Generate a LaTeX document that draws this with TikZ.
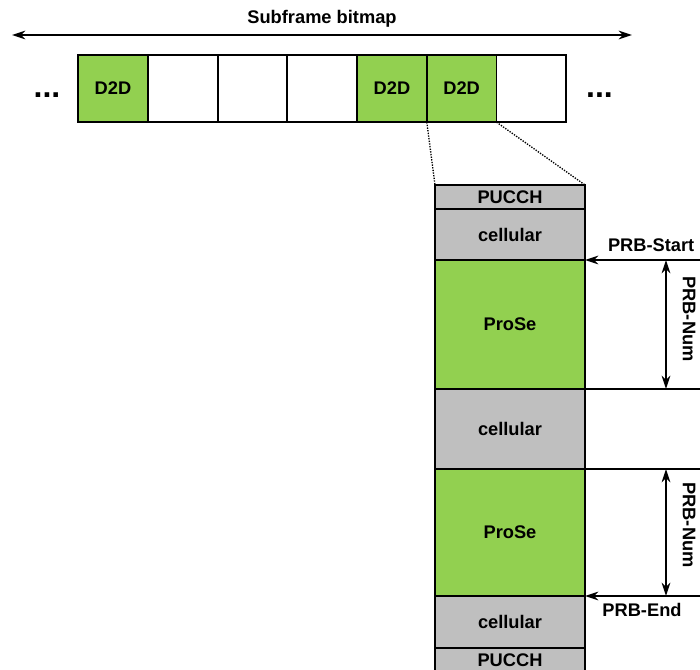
\documentclass[tikz,border=0pt]{standalone}
\usepackage{fontspec}
\setmainfont{Liberation Sans}
\usetikzlibrary{arrows.meta, positioning}

\definecolor{prosegreen}{HTML}{92D050}
\definecolor{cellgray}{HTML}{BFBFBF}

\begin{document}
\begin{tikzpicture}[
    x=0.75pt, y=-0.75pt,
    >={Stealth[length=10pt, width=6.5pt]},
    font=\fontsize{13.7}{16}\selectfont\bfseries,
    node distance=0pt,
    cell/.style={rectangle, draw, line width=1.4pt, minimum width=52.3pt, minimum height=50.5pt, inner sep=0pt, outer sep=0pt},
    band/.style={rectangle, draw, line width=1.4pt, fill=cellgray, minimum width=112.5pt, inner sep=0pt, outer sep=0pt},
    marker/.style={line width=1.1pt},
    dots/.style={font=\fontsize{24}{24}\selectfont\bfseries, inner sep=0pt}
]
\useasboundingbox (0,0) rectangle (700,670);

% Subframe bitmap
\coordinate (bml) at (12,35);
\coordinate (bmr) at (632,35);
\draw[<->, marker] (bml) -- (bmr);
\node (bitmap) at (322,19) {Subframe bitmap};

\node[cell, fill=prosegreen] (c1) at (113,88.5) {D2D};
\node[cell] (c2) [right=of c1] {};
\node[cell] (c3) [right=of c2] {};
\node[cell] (c4) [right=of c3] {};
\node[cell, fill=prosegreen] (c5) [right=of c4] {D2D};
\node[cell, fill=prosegreen] (c6) [right=of c5] {D2D};
\node[cell] (c7) [right=of c6] {};

\node[dots] (dotsl) at (47,95.5) {...};
\node[dots] (dotsr) at (599.5,95.5) {...};

% Resource pool of one subframe
\node[band, minimum height=18pt] (pucchtop) at (510,197) {PUCCH};
\node[band, minimum height=38.25pt] (cell1) [below=of pucchtop] {cellular};
\node[band, minimum height=96.75pt, fill=prosegreen] (prose1) [below=of cell1] {ProSe};
\node[band, minimum height=60pt] (cell2) [below=of prose1] {cellular};
\node[band, minimum height=95.25pt, fill=prosegreen] (prose2) [below=of cell2] {ProSe};
\node[band, minimum height=39pt] (cell3) [below=of prose2] {cellular};
\node[band, minimum height=18pt] (pucchbot) [below=of cell3] {PUCCH};

\draw[densely dotted, line width=1pt] (c6.south west) -- (pucchtop.north west);
\draw[densely dotted, line width=1pt] (c6.south east) -- (pucchtop.north east);

% PRB markers
\coordinate (edge) at (700,0);
\coordinate (numx) at (666,0);
\draw[<-, marker] (prose1.north east) -- (prose1.north east -| edge);
\draw[marker] (prose1.south east) -- (prose1.south east -| edge);
\draw[marker] (prose2.north east) -- (prose2.north east -| edge);
\draw[<-, marker] (prose2.south east) -- (prose2.south east -| edge);
\draw[<->, marker] (prose1.north east -| numx) -- (prose1.south east -| numx);
\draw[<->, marker] (prose2.north east -| numx) -- (prose2.south east -| numx);

\node[anchor=east] (prbstart) at (699,245) {PRB-Start};
\node (prbend) at (642,610) {PRB-End};
\node[rotate=-90] (num1) at (689,319) {PRB-Num};
\node[rotate=-90] (num2) at (689,525) {PRB-Num};

\end{tikzpicture}
\end{document}
